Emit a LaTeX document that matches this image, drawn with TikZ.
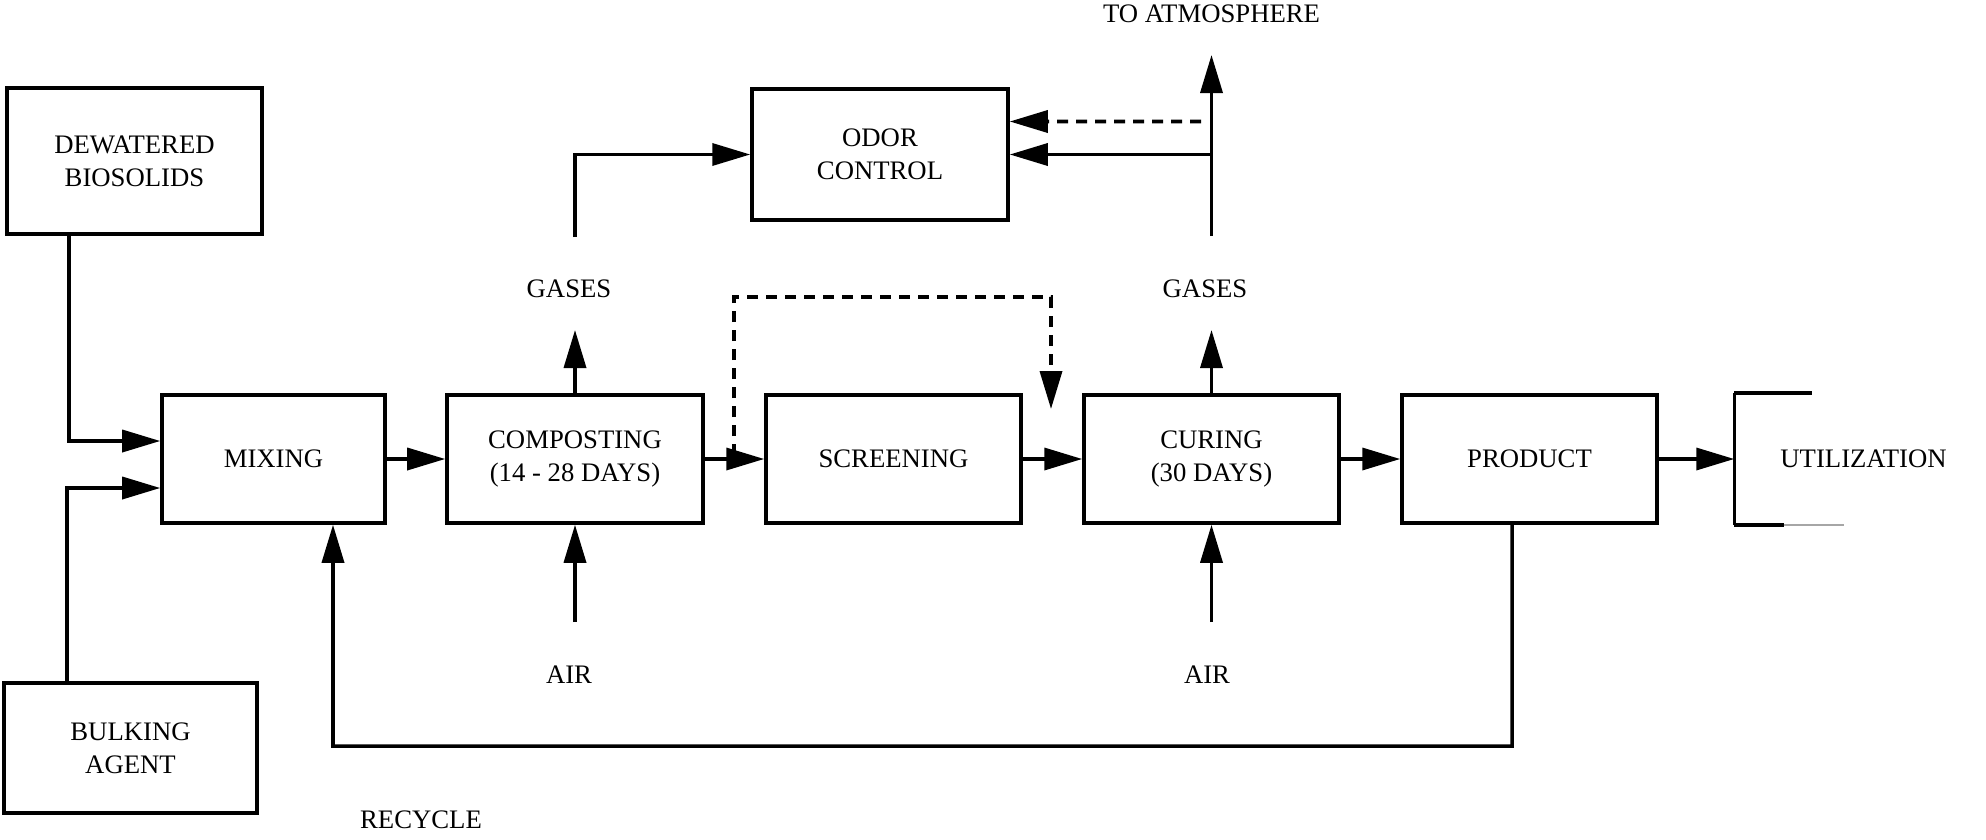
\documentclass[tikz,border=0pt]{standalone}
\usepackage{fontspec}
\setmainfont{Liberation Serif}
\usetikzlibrary{arrows.meta}

\begin{document}
\begin{tikzpicture}[
font=\fontsize{7.6}{9.3}\selectfont,
box/.style={draw,line width=1pt,minimum width=2.55cm,minimum height=1.28cm,align=center,inner sep=0pt},
flow/.style={line width=1pt,-{Triangle[length=3.8mm,width=2.2mm]}},
bypass/.style={flow,dash pattern=on 1.1mm off 0.8mm},
txt/.style={inner sep=0pt},
]
\useasboundingbox (0,0) rectangle (19.86,8.39);

% process boxes
\node[box,minimum height=1.46cm] (dew) at (1.345,6.78) {DEWATERED\\BIOSOLIDS};
\node[box,minimum width=2.53cm,minimum height=1.30cm] (bulk) at (1.305,0.91) {BULKING\\AGENT};
\node[box,minimum width=2.23cm] (mix) at (2.735,3.80) {MIXING};
\node[box,minimum width=2.56cm] (comp) at (5.75,3.80) {COMPOSTING\\(14 - 28 DAYS)};
\node[box] (scr) at (8.935,3.80) {SCREENING};
\node[box] (cure) at (12.115,3.80) {CURING\\(30 DAYS)};
\node[box] (prod) at (15.295,3.80) {PRODUCT};
\node[box,draw=none] (util) at (18.635,3.80) {UTILIZATION};
\node[box,minimum width=2.56cm,minimum height=1.31cm] (odor) at (8.80,6.845) {ODOR\\CONTROL};

% utilization box is only partly printed
\draw[line width=1pt] (util.north west) -- (util.south west);
\draw[line width=1pt] (util.north west) -- ++(0.78,0);
\draw[line width=1pt] (util.south west) -- ++(0.5,0);
\draw[line width=0.6pt,black!35] ([xshift=5mm]util.south west) -- ++(0.6,0);

% labels
\node[txt] (atm) at (12.115,8.255) {TO ATMOSPHERE};
\node[txt] (gas1) at (5.69,5.50) {GASES};
\node[txt] (gas2) at (12.05,5.50) {GASES};
\node[txt] (air1) at (5.69,1.64) {AIR};
\node[txt] (air2) at (12.07,1.64) {AIR};
\node[txt] (rec) at (4.21,0.19) {RECYCLE};

\coordinate (g1tip) at (5.75,5.09);
\coordinate (g2tip) at (12.115,5.09);
\coordinate (g1) at (5.75,6.02);
\coordinate (g2) at (12.115,6.03);
\coordinate (atmtip) at (12.115,7.84);
\coordinate (a1) at (5.75,2.17);
\coordinate (a2) at (12.115,2.17);
\coordinate (odash) at (12.01,7.175);
\coordinate (bs) at (7.34,3.84);
\coordinate (bt) at (7.34,5.42);
\coordinate (be) at (10.51,4.30);
\coordinate (rc) at (15.12,0.93);

% feed lines
\draw[flow] ([xshift=-6.55mm]dew.south) |- ([yshift=1.8mm]mix.west);
\draw[flow] ([xshift=-6.35mm]bulk.north) |- ([yshift=-2.9mm]mix.west);

% main line
\draw[flow] (mix) -- (comp);
\draw[flow] (comp) -- (scr);
\draw[flow] (scr) -- (cure);
\draw[flow] (cure) -- (prod);
\draw[flow] (prod) -- (util);

% gases and air
\draw[flow] (comp.north) -- (g1tip);
\draw[flow] (cure.north) -- (g2tip);
\draw[flow] (a1) -- (comp.south);
\draw[flow] (a2) -- (cure.south);

% odor control
\draw[flow] (g1) |- (odor.west);
\draw[flow] (g2) -- (atmtip);
\draw[flow] (g2 |- odor.east) -- (odor.east);
\draw[bypass] (odash) -- ([yshift=3.3mm]odor.east);

% screening bypass
\draw[bypass] (bs) -- (bt) -| (be);

% recycle
\draw[flow] ([xshift=-1.75mm]prod.south) -- (rc) -| ([xshift=5.95mm]mix.south);
\end{tikzpicture}
\end{document}
